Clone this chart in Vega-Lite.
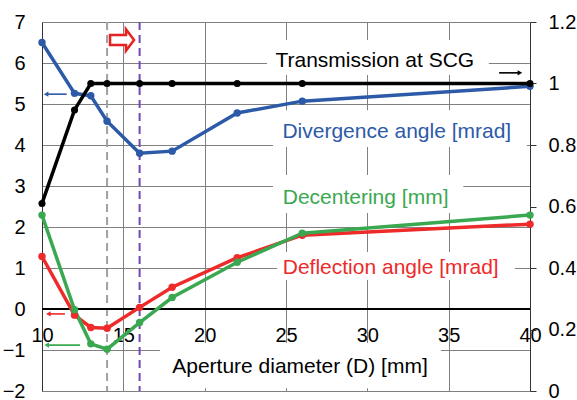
{
  "$schema": "https://vega.github.io/schema/vega-lite/v6.json",
  "width": 488,
  "height": 369,
  "autosize": {"type": "none"},
  "padding": {"left": 42, "top": 22, "right": 47, "bottom": 9},
  "background": "white",
  "config": {
    "font": "Liberation Sans",
    "view": {"stroke": null},
    "axis": {"labelFont": "Liberation Sans", "titleFont": "Liberation Sans", "labelColor": "black", "titleColor": "black"}
  },
  "datasets": {
    "left": [
      {"x": 10, "s": "Deflection", "y": 1.28},
      {"x": 12, "s": "Deflection", "y": -0.15},
      {"x": 13, "s": "Deflection", "y": -0.45},
      {"x": 14, "s": "Deflection", "y": -0.47},
      {"x": 16, "s": "Deflection", "y": 0.04},
      {"x": 18, "s": "Deflection", "y": 0.53},
      {"x": 22, "s": "Deflection", "y": 1.25},
      {"x": 26, "s": "Deflection", "y": 1.8},
      {"x": 40, "s": "Deflection", "y": 2.07},
      {"x": 10, "s": "Decentering", "y": 2.29},
      {"x": 12, "s": "Decentering", "y": -0.02},
      {"x": 13, "s": "Decentering", "y": -0.85},
      {"x": 14, "s": "Decentering", "y": -0.98},
      {"x": 16, "s": "Decentering", "y": -0.33},
      {"x": 18, "s": "Decentering", "y": 0.28},
      {"x": 22, "s": "Decentering", "y": 1.14},
      {"x": 26, "s": "Decentering", "y": 1.85},
      {"x": 40, "s": "Decentering", "y": 2.29},
      {"x": 10, "s": "Divergence", "y": 6.5},
      {"x": 12, "s": "Divergence", "y": 5.26},
      {"x": 13, "s": "Divergence", "y": 5.2},
      {"x": 14, "s": "Divergence", "y": 4.58},
      {"x": 16, "s": "Divergence", "y": 3.8},
      {"x": 18, "s": "Divergence", "y": 3.85},
      {"x": 22, "s": "Divergence", "y": 4.78},
      {"x": 26, "s": "Divergence", "y": 5.07},
      {"x": 40, "s": "Divergence", "y": 5.43}
    ],
    "trans": [
      {"x": 10, "t": 0.61},
      {"x": 12, "t": 0.914},
      {"x": 13, "t": 1},
      {"x": 14, "t": 1},
      {"x": 16, "t": 1},
      {"x": 18, "t": 1},
      {"x": 22, "t": 1},
      {"x": 26, "t": 1},
      {"x": 40, "t": 1}
    ],
    "vmarkers": [
      {"x": 14, "s": "limit"},
      {"x": 16, "s": "chosen"}
    ],
    "boxes": [
      {"x": 23.83, "x2": 37.47, "y": 6.56, "y2": 5.71},
      {"x": 24.2, "x2": 39.8, "y": 4.85, "y2": 3.95},
      {"x": 24.2, "x2": 35.9, "y": 3.27, "y2": 2.34},
      {"x": 24.44, "x2": 39.07, "y": 1.39, "y2": 0.71},
      {"x": 17.25, "x2": 34.52, "y": -0.83, "y2": -1.93}
    ],
    "labels": [
      {"x": 24.35, "y": 5.9, "s": "Transmission", "text": "Transmission at SCG"},
      {"x": 24.78, "y": 4.18, "s": "Divergence", "text": "Divergence angle [mrad]"},
      {"x": 24.8, "y": 2.55, "s": "Decentering", "text": "Decentering [mm]"},
      {"x": 24.8, "y": 0.85, "s": "Deflection", "text": "Deflection angle [mrad]"}
    ],
    "xtitle": [
      {"x": 25.86, "y": -1.57, "text": "Aperture diameter (D) [mm]"}
    ],
    "arrows": [
      {"x": 38.1, "x2": 39.38, "tip": 39.38, "y": 5.76, "s": "Transmission", "dir": "right"},
      {"x": 10.25, "x2": 11.52, "tip": 10.25, "y": 5.24, "s": "Divergence", "dir": "left"},
      {"x": 10.39, "x2": 11.41, "tip": 10.39, "y": -0.12, "s": "Deflection", "dir": "left"},
      {"x": 10.29, "x2": 12.34, "tip": 10.29, "y": -0.88, "s": "Decentering", "dir": "left"}
    ],
    "bigarrow": [
      {"x": 14.92, "y": 6.56}
    ]
  },
  "encoding": {
    "x": {
      "field": "x",
      "type": "quantitative",
      "scale": {"domain": [10, 40], "nice": false, "zero": false},
      "axis": {
        "title": null,
        "values": [10, 15, 20, 25, 30, 35, 40],
        "offset": -82,
        "domain": false,
        "ticks": false,
        "labelPadding": 16,
        "labelFontSize": 20,
        "labelFlush": false,
        "labelOverlap": false,
        "grid": true,
        "gridColor": "#808080",
        "gridWidth": 1
      }
    }
  },
  "layer": [
    {
      "encoding": {
        "y": {
          "field": "y",
          "type": "quantitative",
          "scale": {"domain": [-2, 7], "nice": false, "zero": false},
          "axis": {
            "title": null,
            "values": [-2, -1, 0, 1, 2, 3, 4, 5, 6, 7],
            "grid": true,
            "gridColor": "#808080",
            "gridWidth": 1,
            "domain": true,
            "domainColor": "#333333",
            "ticks": false,
            "labelPadding": 17,
            "labelFontSize": 20
          }
        },
        "color": {
          "field": "s",
          "type": "nominal",
          "scale": {
            "domain": ["Deflection", "Decentering", "Divergence", "Transmission", "limit", "chosen"],
            "range": ["#ee2a2a", "#3aa850", "#2c5aa8", "#000000", "#a0a0a0", "#7048b0"]
          },
          "legend": null
        }
      },
      "layer": [
        {
          "data": {"name": "boxes"},
          "mark": {"type": "rect", "fill": "white", "stroke": null},
          "encoding": {
            "x2": {"field": "x2"},
            "y2": {"field": "y2"},
            "color": {"value": "white"}
          }
        },
        {
          "data": {"name": "vmarkers"},
          "mark": {"type": "rule", "strokeWidth": 2, "strokeDash": [8, 5]},
          "encoding": {
            "y": {"value": 0},
            "y2": {"value": "height"}
          }
        },
        {
          "data": {"name": "bigarrow"},
          "mark": {"type": "rule", "color": "black", "strokeWidth": 2},
          "encoding": {
            "x": {"datum": 10},
            "x2": {"datum": 40},
            "y": {"datum": 0},
            "color": {"value": "black"}
          }
        },
        {
          "data": {"name": "left"},
          "mark": {"type": "line", "strokeWidth": 3.5}
        },
        {
          "data": {"name": "left"},
          "mark": {"type": "point", "filled": true, "size": 55, "opacity": 1}
        },
        {
          "data": {"name": "labels"},
          "mark": {"type": "text", "align": "left", "baseline": "alphabetic", "fontSize": 21, "font": "Liberation Sans"},
          "encoding": {
            "text": {"field": "text"}
          }
        },
        {
          "data": {"name": "xtitle"},
          "mark": {"type": "text", "align": "center", "baseline": "alphabetic", "fontSize": 21, "font": "Liberation Sans"},
          "encoding": {
            "text": {"field": "text"},
            "color": {"value": "black"}
          }
        },
        {
          "data": {"name": "arrows"},
          "mark": {"type": "rule", "strokeWidth": 1.6},
          "encoding": {
            "x2": {"field": "x2"}
          }
        },
        {
          "data": {"name": "arrows"},
          "mark": {"type": "point", "filled": true, "size": 28, "opacity": 1},
          "encoding": {
            "x": {"field": "tip", "type": "quantitative"},
            "shape": {
              "field": "dir",
              "type": "nominal",
              "scale": {"domain": ["left", "right"], "range": ["triangle-left", "triangle-right"]},
              "legend": null
            }
          }
        },
        {
          "data": {"name": "bigarrow"},
          "mark": {
            "type": "point",
            "shape": "M -1 -0.42 L 0.33 -0.42 L 0.33 -0.9 L 1 0 L 0.33 0.9 L 0.33 0.42 L -1 0.42 Z",
            "size": 576,
            "filled": true,
            "fill": "white",
            "stroke": "#e82020",
            "strokeWidth": 2.5,
            "opacity": 1
          },
          "encoding": {
            "color": {"value": "white"}
          }
        }
      ]
    },
    {
      "data": {"name": "trans"},
      "encoding": {
        "y": {
          "field": "t",
          "type": "quantitative",
          "scale": {"domain": [0, 1.2], "nice": false, "zero": false},
          "axis": {
            "orient": "right",
            "title": null,
            "values": [0, 0.2, 0.4, 0.6, 0.8, 1, 1.2],
            "format": "~g",
            "grid": false,
            "domain": true,
            "domainColor": "#333333",
            "ticks": true,
            "tickSize": 6,
            "tickColor": "#333333",
            "labelPadding": 12,
            "labelFontSize": 20
          }
        }
      },
      "layer": [
        {"mark": {"type": "line", "color": "black", "strokeWidth": 3.5}},
        {"mark": {"type": "point", "filled": true, "color": "black", "size": 50, "opacity": 1}}
      ]
    }
  ],
  "resolve": {"scale": {"y": "independent"}}
}
